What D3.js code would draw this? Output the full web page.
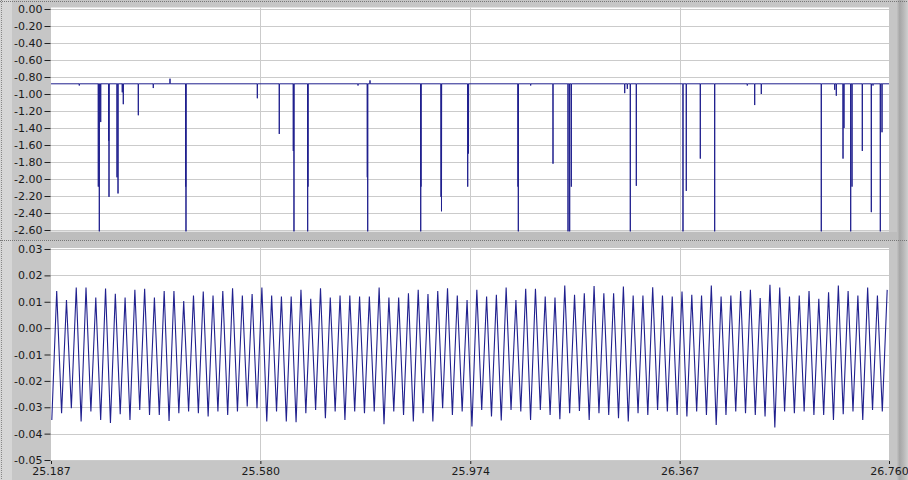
<!DOCTYPE html>
<html><head><meta charset="utf-8">
<script src="https://cdn.jsdelivr.net/npm/d3@7"></script>
<style>
html,body{margin:0;padding:0;background:#c6c6c6;}
svg{display:block;}
text{font-family:"DejaVu Sans",sans-serif;font-size:11px;fill:#1a1a1a;}
</style></head><body>
<svg id="c" width="908" height="480"></svg>
<script>
// ---------- data ----------
const xTicks = [25.187, 25.580, 25.974, 26.367, 26.760];
const topTicks = [0, -0.2, -0.4, -0.6, -0.8, -1.0, -1.2, -1.4, -1.6, -1.8, -2.0, -2.2, -2.4, -2.6];
const botTicks = [0.03, 0.02, 0.01, 0.00, -0.01, -0.02, -0.03, -0.04, -0.05];

// top trace: flat level with short excursions
const baseline = -0.88;
const spikeTimes = [
  25.2401, 25.2758, 25.2777, 25.2803, 25.2953, 25.2959, 25.3109, 25.3128, 25.3208, 25.3227,
  25.3509, 25.3790, 25.4104, 25.4398, 25.4404, 25.5743, 25.6155, 25.6418, 25.6431, 25.6688,
  25.6694, 25.7633, 25.7807, 25.7815, 25.7858, 25.8810, 25.8815, 25.9191, 25.9200, 25.9692,
  25.9707, 26.0636, 26.0642, 26.0874, 26.1293, 26.1575, 26.1606, 26.1637, 26.2639, 26.2688,
  26.2744, 26.2857, 26.3733, 26.3795, 26.4058, 26.4328, 26.4940, 26.5079, 26.5203, 26.6329,
  26.6581, 26.6611, 26.6737, 26.6755, 26.6881, 26.6906, 26.7099, 26.7268, 26.7300, 26.7437,
  26.7469
];
const spikeValues = [
  -0.90, -2.09, -2.62, -1.33, -1.55, -2.21, -1.98, -2.17, -0.98, -1.12,
  -1.25, -0.93, -0.82, -2.09, -2.62, -1.05, -1.47, -1.67, -2.62, -2.62,
  -2.09, -0.90, -1.98, -2.62, -0.84, -2.62, -2.09, -2.21, -2.38, -2.09,
  -1.70, -2.09, -2.62, -0.90, -1.82, -2.62, -2.62, -2.09, -0.99, -0.94,
  -2.62, -2.08, -2.62, -2.14, -1.76, -2.62, -0.90, -1.13, -1.00, -2.62,
  -0.95, -1.02, -1.76, -1.40, -2.62, -2.09, -1.67, -2.39, -0.90, -2.62,
  -1.45
];

// bottom trace: oscillation, one peak and one trough per cycle
const waveStart = 25.1977;   // time of first peak
const wavePeriod = 0.01834;  // cycle length
const peakValues = [
  0.0141, 0.0107, 0.0154, 0.0154, 0.0116, 0.0150, 0.0130, 0.0116, 0.0145, 0.0149,
  0.0116, 0.0141, 0.0141, 0.0103, 0.0124, 0.0139, 0.0124, 0.0141, 0.0151, 0.0124,
  0.0129, 0.0154, 0.0124, 0.0120, 0.0120, 0.0145, 0.0111, 0.0151, 0.0116, 0.0124,
  0.0124, 0.0120, 0.0120, 0.0154, 0.0116, 0.0116, 0.0132, 0.0145, 0.0129, 0.0141,
  0.0151, 0.0124, 0.0107,
  0.0145, 0.0120, 0.0126, 0.0154, 0.0107, 0.0149, 0.0149, 0.0120, 0.0116, 0.0162,
  0.0126, 0.0132, 0.0160, 0.0132, 0.0132, 0.0158, 0.0124, 0.0124, 0.0155, 0.0124,
  0.0120, 0.0139, 0.0126, 0.0124, 0.0162, 0.0120, 0.0124, 0.0141, 0.0145, 0.0114,
  0.0164, 0.0154, 0.0120, 0.0124, 0.0141, 0.0111, 0.0136, 0.0162, 0.0141, 0.0124,
  0.0154, 0.0124, 0.0145
];
const troughValues = [
  -0.0348, -0.0323, -0.0304, -0.0354, -0.0316, -0.0348, -0.0360, -0.0326, -0.0348, -0.0310,
  -0.0329, -0.0329, -0.0352, -0.0323, -0.0316, -0.0323, -0.0335, -0.0316, -0.0329, -0.0316,
  -0.0297, -0.0304, -0.0354, -0.0316, -0.0354, -0.0357, -0.0323, -0.0310, -0.0342, -0.0316,
  -0.0348, -0.0316, -0.0323, -0.0316, -0.0364, -0.0316, -0.0329, -0.0354, -0.0323, -0.0354,
  -0.0304, -0.0329, -0.0316,
  -0.0373, -0.0310, -0.0335, -0.0350, -0.0310, -0.0316, -0.0348, -0.0310, -0.0329, -0.0345,
  -0.0323, -0.0314, -0.0348, -0.0323, -0.0329, -0.0342, -0.0354, -0.0323, -0.0329, -0.0310,
  -0.0316, -0.0329, -0.0335, -0.0316, -0.0329, -0.0367, -0.0329, -0.0316, -0.0323, -0.0329,
  -0.0335, -0.0377, -0.0316, -0.0323, -0.0316, -0.0329, -0.0329, -0.0348, -0.0326, -0.0316,
  -0.0348, -0.0310, -0.0316
];

// ---------- drawing ----------
const W = 908, H = 480;
const svg = d3.select("#c");
const PL = 51, PR = 889;
const topBox = {y0: 7.5, y1: 231.5};
const botBox = {y0: 248, y1: 461};

const x = d3.scaleLinear().domain([xTicks[0], xTicks[xTicks.length-1]]).range([PL, PR]);
const yTop = d3.scaleLinear().domain([-2.6, 0]).range([230, 9]);
const yBot = d3.scaleLinear().domain([-0.05, 0.03]).range([460, 249]);

const defs = svg.append("defs");
const grad = defs.append("linearGradient").attr("id","rs").attr("x1","0").attr("x2","1");
grad.append("stop").attr("offset","0").attr("stop-color","#c2c2c2");
grad.append("stop").attr("offset","0.25").attr("stop-color","#a6a6a6");
grad.append("stop").attr("offset","0.6").attr("stop-color","#b8b8b8");
grad.append("stop").attr("offset","1").attr("stop-color","#cfcfcf");
defs.append("clipPath").attr("id","ct").append("rect")
  .attr("x",PL).attr("y",topBox.y0).attr("width",PR-PL).attr("height",topBox.y1-topBox.y0);
defs.append("clipPath").attr("id","cb").append("rect")
  .attr("x",PL).attr("y",botBox.y0).attr("width",PR-PL).attr("height",botBox.y1-botBox.y0);

// frame
svg.append("rect").attr("width",W).attr("height",H).attr("fill","#c6c6c6");
svg.append("rect").attr("x",0).attr("y",0).attr("width",12).attr("height",H).attr("fill","#d6d6d6");
svg.append("rect").attr("x",12).attr("y",232).attr("width",885).attr("height",8).attr("fill","#bdbdbd");
svg.append("rect").attr("x",897).attr("y",0).attr("width",11).attr("height",H).attr("fill","url(#rs)");
svg.append("line").attr("x1",0).attr("x2",W).attr("y1",1.5).attr("y2",1.5)
  .attr("stroke","#777").attr("stroke-dasharray","1,1");
svg.append("line").attr("x1",1.5).attr("x2",1.5).attr("y1",0).attr("y2",H)
  .attr("stroke","#888").attr("stroke-dasharray","1,1");
svg.append("line").attr("x1",0).attr("x2",W).attr("y1",240.5).attr("y2",240.5)
  .attr("stroke","#777").attr("stroke-dasharray","1,1");

function panel(box, y, ticks, fmt){
  svg.append("rect").attr("x",PL).attr("y",box.y0).attr("width",PR-PL)
    .attr("height",box.y1-box.y0).attr("fill","#ffffff");
  const g = svg.append("g");
  g.selectAll("line.h").data(ticks).join("line")
    .attr("x1",PL).attr("x2",PR)
    .attr("y1",d=>Math.round(y(d))+0.5).attr("y2",d=>Math.round(y(d))+0.5)
    .attr("stroke","#cbcbcb").attr("stroke-width",1);
  g.selectAll("line.v").data(xTicks.slice(1,-1)).join("line")
    .attr("x1",d=>Math.round(x(d))+0.5).attr("x2",d=>Math.round(x(d))+0.5)
    .attr("y1",box.y0).attr("y2",box.y1)
    .attr("stroke","#cbcbcb").attr("stroke-width",1);
  const ax = svg.append("g").attr("transform",`translate(${PL-0.5},0)`)
    .call(d3.axisLeft(y).tickValues(ticks).tickFormat(fmt).tickSize(6).tickPadding(2));
  ax.select(".domain").remove();
  ax.selectAll(".tick line").attr("stroke","#222");
  ax.selectAll(".tick text").attr("fill","#1a1a1a").style("font-family","'DejaVu Sans',sans-serif").style("font-size","11px");
}
panel(topBox, yTop, topTicks, v => v.toFixed(2));
panel(botBox, yBot, botTicks, v => v.toFixed(2));

// top trace
const topPts = [[xTicks[0], baseline]];
spikeTimes.forEach((t,i) => {
  topPts.push([t-0.0003, baseline]);
  topPts.push([t, spikeValues[i]]);
  topPts.push([t+0.0003, baseline]);
});
topPts.push([xTicks[xTicks.length-1], baseline]);
svg.append("path").datum(topPts).attr("clip-path","url(#ct)")
  .attr("fill","none").attr("stroke","#20208e").attr("stroke-width",1)
  .attr("d", d3.line().x(d=>x(d[0])).y(d=>yTop(d[1])));

// bottom trace
const botPts = [];
peakValues.forEach((p,i) => {
  const tp = waveStart + i*wavePeriod;
  botPts.push([tp - wavePeriod/2, troughValues[i]]);
  botPts.push([tp, p]);
});
svg.append("path").datum(botPts).attr("clip-path","url(#cb)")
  .attr("fill","none").attr("stroke","#20208e").attr("stroke-width",1.1)
  .attr("d", d3.line().x(d=>x(d[0])).y(d=>yBot(d[1])));

// x axis
const xa = svg.append("g").attr("transform",`translate(0,${botBox.y1})`)
  .call(d3.axisBottom(x).tickValues(xTicks).tickFormat(v=>v.toFixed(3)).tickSize(3).tickPadding(3));
xa.select(".domain").remove();
xa.selectAll(".tick line").attr("stroke","#222");
xa.selectAll(".tick text").attr("fill","#1a1a1a").style("font-family","'DejaVu Sans',sans-serif").style("font-size","11px");
</script>
</body></html>
